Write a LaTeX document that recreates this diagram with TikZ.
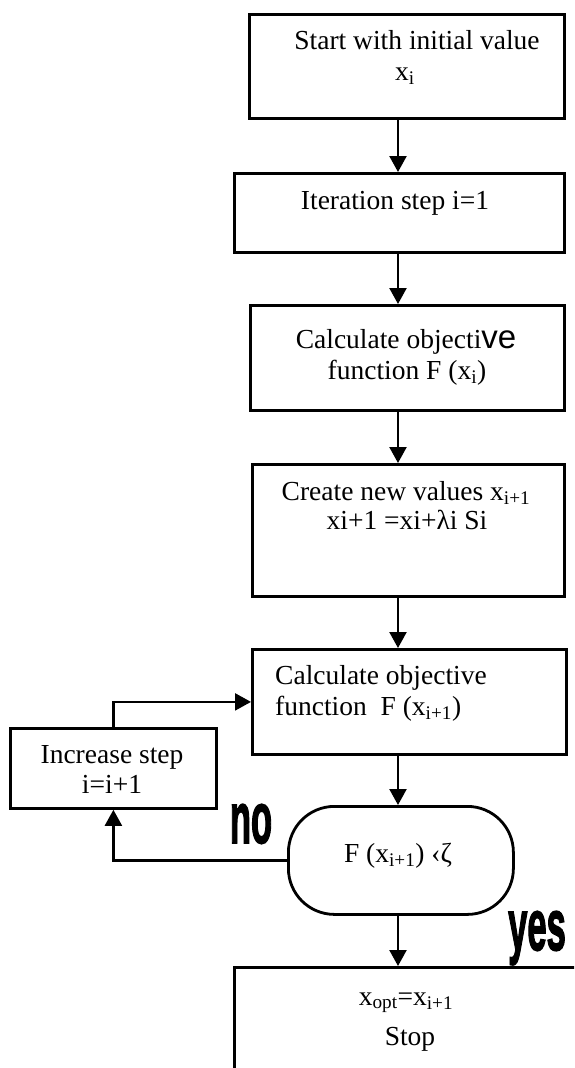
\documentclass[tikz,border=0pt]{standalone}
\usepackage{fontspec}
\setmainfont{Liberation Serif}
\setsansfont{Liberation Sans}
\newfontfamily\heavy[FakeBold=2.5]{Liberation Sans}
\usetikzlibrary{arrows.meta}
\begin{document}
\begin{tikzpicture}[x=1pt,y=-1pt,
  box/.style={draw, line width=2.8pt, rectangle, inner sep=0pt, anchor=north west},
  txt/.style={font=\fontsize{27.5}{31}\selectfont, inner sep=0pt, anchor=base},
  arr/.style={line width=2.3pt, -{Triangle[length=16pt,width=17pt]}},
  big/.style={font=\heavy\bfseries\fontsize{72}{72}\selectfont, inner sep=0pt, anchor=base}]
\useasboundingbox (0,0) rectangle (574,1068);
\clip (0,0) rectangle (574,1068);
\fill[white] (0,0) rectangle (574,1068);
\coordinate (spine) at (398,0);
% boxes
\node[box, minimum width=315pt, minimum height=104pt] (b1) at (248,13) {};
\node[box, minimum width=330pt, minimum height=79pt] (b2) at (233,172) {};
\node[box, minimum width=314pt, minimum height=105pt] (b3) at (249,304) {};
\node[box, minimum width=312pt, minimum height=132pt] (b4) at (251,463) {};
\node[box, minimum width=314pt, minimum height=105pt] (b5) at (251,648) {};
\node[box, minimum width=206pt, minimum height=80pt] (inc) at (9,727) {};
\node[box, rounded corners=46pt, minimum width=225pt, minimum height=108pt] (dec) at (287,805) {};
\node[box, minimum width=400pt, minimum height=200pt] (stop) at (233,966) {};
% texts
\node[txt] (t1a) at (417,49) {Start with initial value};
\node[txt] (t1b) at (405,80) {x\textsubscript{i}};
\node[txt] (t2) at (395,209) {Iteration step i=1};
\node[txt] (t3a) at (406,348) {Calculate objecti{\sffamily\fontsize{33}{33}\selectfont ve}};
\node[txt] (t3b) at (407,379) {function F (x\textsubscript{i})};
\node[txt] (t4a) at (406,500) {Create new values x\textsubscript{i+1}};
\node[txt] (t4b) at (407,529) {xi+1 =xi+λi Si};
\node[txt, anchor=base west] (t5a) at (275,684) {Calculate objective};
\node[txt, anchor=base west] (t5b) at (275,715) {function\ \ F (x\textsubscript{i+1})};
\node[txt] (tia) at (112,763) {Increase step};
\node[txt] (tib) at (112,793) {i=i+1};
\node[txt] (td) at (398,862) {F (x\textsubscript{i+1}) ‹ζ};
\node[txt] (tsa) at (406,1005) {x\textsubscript{opt}=x\textsubscript{i+1}};
\node[txt] (tsb) at (410,1045) {Stop};
\node[big] (no) at (251,843) {\scalebox{0.48}[1]{no}};
\node[big] (yes) at (537,950) {\scalebox{0.48}[1]{yes}};
% connectors
\draw[arr] (b1.south -| spine) -- (b2.north -| spine);
\draw[arr] (b2.south -| spine) -- (b3.north -| spine);
\draw[arr] (b3.south -| spine) -- (b4.north -| spine);
\draw[arr] (b4.south -| spine) -- (b5.north -| spine);
\draw[arr] (b5.south -| spine) -- (dec.north -| spine);
\draw[arr] (dec.south -| spine) -- (stop.north -| spine);
\draw[arr] (dec.west) -| (inc.south);
\draw[arr] (inc.north) |- (b5.west);
\end{tikzpicture}
\end{document}
